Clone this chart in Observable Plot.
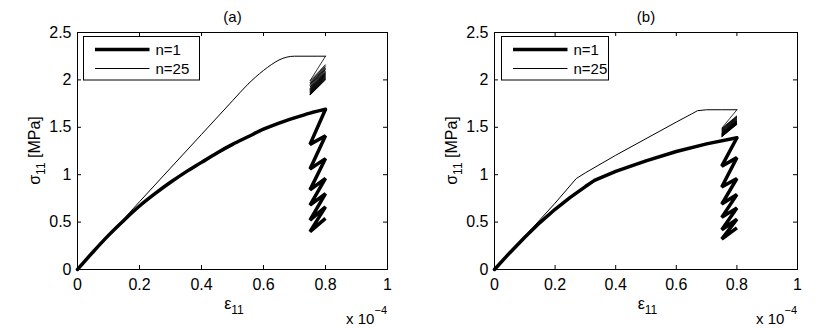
<!DOCTYPE html>
<html>
<head>
<meta charset="utf-8">
<script src="https://cdn.jsdelivr.net/npm/d3@7"></script>
<script src="https://cdn.jsdelivr.net/npm/@observablehq/plot@0.6"></script>
<style>
  html, body { margin: 0; padding: 0; background: #fff; }
  #wrap { display: flex; width: 817px; height: 329px; overflow: hidden; }
  #wrap svg { display: block; }
</style>
</head>
<body>
<div id="wrap"></div>
<script>
// ---------- ticks ----------
const xTicks = [0, 0.2, 0.4, 0.6, 0.8, 1];
const xTickLabels = ["0", "0.2", "0.4", "0.6", "0.8", "1"];
const yTicks = [0, 0.5, 1, 1.5, 2, 2.5];
const yTickLabels = ["0", "0.5", "1", "1.5", "2", "2.5"];

const seriesNames = ["n=1", "n=25"];
const panelTitles = ["(a)", "(b)"];

// strain (x 1e-4) where the cyclic part turns
const zigStrainLow = 0.75;
const zigStrainHigh = 0.8;

// ---------- panel (a) ----------
const aN1Strain = [0, 0.05, 0.1, 0.15, 0.2, 0.25, 0.3, 0.35, 0.4, 0.45, 0.5, 0.55, 0.6, 0.65, 0.7, 0.75, 0.8];
const aN1Stress = [0, 0.185, 0.36, 0.52, 0.67, 0.80, 0.92, 1.03, 1.13, 1.23, 1.32, 1.40, 1.48, 1.545, 1.60, 1.65, 1.69];
const aN1ZigLow  = [1.32, 1.06, 0.84, 0.68, 0.52, 0.40];
const aN1ZigHigh = [1.41, 1.17, 0.96, 0.80, 0.66, 0.54];

const aN25Strain = [0, 0.1, 0.2, 0.3, 0.4, 0.5, 0.55, 0.6, 0.625, 0.65, 0.675, 0.7, 0.75, 0.8];
const aN25Stress = [0, 0.355, 0.715, 1.07, 1.425, 1.78, 1.955, 2.10, 2.16, 2.21, 2.24, 2.25, 2.25, 2.25];
const aN25ZigLow  = [1.99, 1.97, 1.955, 1.94, 1.925, 1.91, 1.90, 1.89, 1.88, 1.87, 1.86, 1.85, 1.845, 1.84];
const aN25ZigHigh = [2.16, 2.14, 2.125, 2.11, 2.095, 2.08, 2.07, 2.06, 2.05, 2.04, 2.03, 2.02, 2.01, 2.00];

// ---------- panel (b) ----------
const bN1Strain = [0, 0.05, 0.1, 0.15, 0.2, 0.25, 0.3, 0.33, 0.4, 0.5, 0.6, 0.7, 0.8];
const bN1Stress = [0, 0.175, 0.34, 0.495, 0.635, 0.76, 0.875, 0.94, 1.035, 1.145, 1.245, 1.325, 1.39];
const bN1ZigLow  = [1.09, 0.87, 0.69, 0.55, 0.42, 0.32];
const bN1ZigHigh = [1.18, 0.96, 0.79, 0.65, 0.53, 0.44];

const bN25Strain = [0, 0.1, 0.2, 0.27, 0.3, 0.4, 0.5, 0.6, 0.65, 0.67, 0.7, 0.75, 0.8];
const bN25Stress = [0, 0.35, 0.70, 0.96, 1.02, 1.205, 1.38, 1.555, 1.64, 1.675, 1.685, 1.685, 1.685];
const bN25ZigLow  = [1.49, 1.48, 1.47, 1.46, 1.45, 1.44, 1.435, 1.43, 1.425, 1.42, 1.415, 1.41, 1.405, 1.40];
const bN25ZigHigh = [1.62, 1.61, 1.60, 1.59, 1.58, 1.57, 1.565, 1.56, 1.555, 1.55, 1.545, 1.54, 1.535, 1.53];

// ---------- helpers ----------
function curveRows(xs, ys) {
  return xs.map((x, i) => ({x, y: ys[i]}));
}
function zigRows(xs, ys, low, high) {
  const rows = [{x: xs[xs.length - 1], y: ys[ys.length - 1]}];
  low.forEach((lo, i) => {
    rows.push({x: zigStrainLow, y: lo});
    rows.push({x: zigStrainHigh, y: high[i]});
  });
  return rows;
}

const FONT = "'Liberation Sans', Arial, Helvetica, sans-serif";
const HEIGHT = 329, MT = 32, MB = 60;

function panel(cfg) {
  const H = HEIGHT - MT - MB;
  const W = cfg.width - cfg.marginLeft - cfg.marginRight;
  const svg = Plot.plot({
    width: cfg.width,
    height: HEIGHT,
    marginLeft: cfg.marginLeft,
    marginRight: cfg.marginRight,
    marginTop: MT,
    marginBottom: MB,
    style: {fontFamily: FONT, fontSize: "15px", color: "#000", background: "#fff", overflow: "visible"},
    x: {domain: [0, 1]},
    y: {domain: [0, 2.5]},
    marks: [
      Plot.axisX(xTicks, {tickSize: 0, tickPadding: 9, label: null, fontSize: 16,
        tickFormat: d => xTickLabels[xTicks.indexOf(d)]}),
      Plot.axisY(yTicks, {tickSize: 0, tickPadding: 6, label: null, fontSize: 16,
        tickFormat: d => yTickLabels[yTicks.indexOf(d)]}),
      Plot.tickX(xTicks, {x: d => d, insetTop: H - 4, stroke: "#000"}),
      Plot.tickX(xTicks, {x: d => d, insetBottom: H - 4, stroke: "#000"}),
      Plot.tickY(yTicks, {y: d => d, insetRight: W - 4, stroke: "#000"}),
      Plot.tickY(yTicks, {y: d => d, insetLeft: W - 4, stroke: "#000"}),
      Plot.line(curveRows(cfg.n25x, cfg.n25y), {x: "x", y: "y", stroke: "#000", strokeWidth: 1, curve: cfg.curve}),
      Plot.line(zigRows(cfg.n25x, cfg.n25y, cfg.n25lo, cfg.n25hi), {x: "x", y: "y", stroke: "#000", strokeWidth: 0.8, strokeLinejoin: "miter", curve: "linear"}),
      Plot.line(curveRows(cfg.n1x, cfg.n1y), {x: "x", y: "y", stroke: "#000", strokeWidth: 3.5, curve: cfg.curve}),
      Plot.line(zigRows(cfg.n1x, cfg.n1y, cfg.n1lo, cfg.n1hi), {x: "x", y: "y", stroke: "#000", strokeWidth: 3.5, strokeLinejoin: "miter", strokeLinecap: "butt", curve: "linear"}),
      Plot.frame({stroke: "#000", strokeWidth: 1}),
      Plot.text([cfg.title], {frameAnchor: "top", dy: -21, fontSize: 15, fill: "#000"})
    ]
  });

  const g = d3.select(svg);
  const cx = cfg.marginLeft + W / 2;
  // y label
  const yl = g.append("text")
    .attr("transform", `translate(${cfg.marginLeft - 37},${MT + H / 2}) rotate(-90)`)
    .attr("text-anchor", "middle").attr("font-size", 16).attr("font-family", FONT).attr("fill", "#000");
  yl.append("tspan").text("σ");
  yl.append("tspan").attr("font-size", 12).attr("dy", 5).text("11");
  yl.append("tspan").attr("dy", -5).text(" [MPa]");
  // x label
  const xl = g.append("text")
    .attr("x", cx + 2).attr("y", 309)
    .attr("text-anchor", "middle").attr("font-size", 16).attr("font-family", FONT).attr("fill", "#000");
  xl.append("tspan").text("ε");
  xl.append("tspan").attr("font-size", 12).attr("dy", 5).text("11");
  // exponent
  const ex = g.append("text")
    .attr("x", cfg.marginLeft + W).attr("y", 324)
    .attr("text-anchor", "end").attr("font-size", 15).attr("font-family", FONT).attr("fill", "#000");
  ex.append("tspan").text("x 10");
  ex.append("tspan").attr("font-size", 11).attr("dy", -10).text("−4");

  // legend
  const lx = cfg.marginLeft + cfg.legendOffset;
  const lg = g.append("g").attr("font-family", FONT).attr("font-size", 15).attr("text-anchor", "start");
  lg.append("rect").attr("x", lx).attr("y", 36.5).attr("width", cfg.legendWidth).attr("height", 43.5)
    .attr("fill", "#fff").attr("stroke", "#000").attr("stroke-width", 1);
  const rowsY = [49.5, 68.5];
  const widths = [3.5, 1];
  seriesNames.forEach((name, i) => {
    lg.append("line").attr("x1", lx + 11.5).attr("x2", lx + 66).attr("y1", rowsY[i]).attr("y2", rowsY[i])
      .attr("stroke", "#000").attr("stroke-width", widths[i]);
    lg.append("text").attr("x", lx + 72).attr("y", rowsY[i]).attr("dy", "0.36em")
      .attr("text-anchor", "start").attr("fill", "#000").text(name);
  });
  return svg;
}

const wrap = document.getElementById("wrap");
wrap.appendChild(panel({
  title: panelTitles[0], width: 409, marginLeft: 77, marginRight: 22, curve: "monotone-x",
  n1x: aN1Strain, n1y: aN1Stress, n1lo: aN1ZigLow, n1hi: aN1ZigHigh,
  n25x: aN25Strain, n25y: aN25Stress, n25lo: aN25ZigLow, n25hi: aN25ZigHigh,
  legendOffset: 6.5, legendWidth: 116
}));
wrap.appendChild(panel({
  title: panelTitles[1], width: 408, marginLeft: 85, marginRight: 20, curve: "linear",
  n1x: bN1Strain, n1y: bN1Stress, n1lo: bN1ZigLow, n1hi: bN1ZigHigh,
  n25x: bN25Strain, n25y: bN25Stress, n25lo: bN25ZigLow, n25hi: bN25ZigHigh,
  legendOffset: 7.5, legendWidth: 107
}));
</script>
</body>
</html>
